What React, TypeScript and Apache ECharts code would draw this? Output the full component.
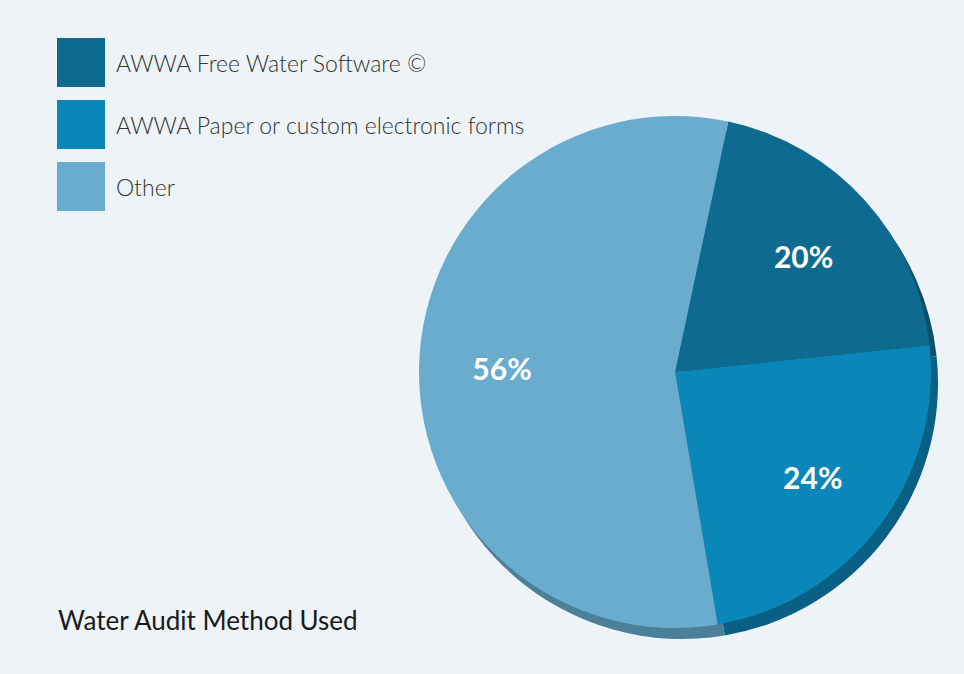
import React, { useEffect, useRef } from "react";
import * as echarts from "echarts";

const categories = [
  "AWWA Free Water Software ©",
  "AWWA Paper or custom electronic forms",
  "Other",
];
const values = [20, 24, 56];
const faceColors = ["#0f6a8f", "#0b86b8", "#6aaccd"];
const edgeColors = ["#0a4f6c", "#0a5f85", "#4c7f98"];
const title = "Water Audit Method Used";

export default function App() {
  const ref = useRef<HTMLDivElement>(null);
  useEffect(() => {
    if (!ref.current) return;
    const chart = echarts.init(ref.current, null, { renderer: "svg" });
    const data = categories.map((name, i) => ({
      name,
      value: values[i],
      itemStyle: { color: faceColors[i] },
    }));
    const edgeData = categories.map((name, i) => ({
      name: name + " edge",
      value: values[i],
      itemStyle: { color: edgeColors[i] },
    }));
    const labelData = categories.map((name, i) => ({
      name,
      value: values[i],
      itemStyle: { color: "transparent" },
    }));
    chart.setOption({
      animation: false,
      backgroundColor: "#edf3f6",
      legend: {
        data: categories,
        orient: "vertical",
        left: 57,
        top: 38,
        padding: 0,
        itemWidth: 48,
        itemHeight: 49,
        itemGap: 13,
        icon: "rect",
        selectedMode: false,
        textStyle: {
          fontFamily: "Lato",
          fontWeight: 300,
          fontSize: 23,
          color: "#333",
          padding: [0, 0, 0, 6],
        },
      },
      title: {
        text: title,
        left: 58,
        top: 607,
        padding: 0,
        textStyle: {
          fontFamily: "Lato",
          fontWeight: 400,
          fontSize: 26,
          color: "#1a1a1a",
        },
      },
      series: [
        {
          type: "pie",
          center: [682, 383],
          radius: 256,
          startAngle: 78,
          clockwise: true,
          silent: true,
          label: { show: false },
          labelLine: { show: false },
          data: edgeData,
          z: 1,
        },
        {
          type: "pie",
          center: [675, 372],
          radius: 256,
          startAngle: 78,
          clockwise: true,
          silent: true,
          label: { show: false },
          labelLine: { show: false },
          data,
          z: 2,
        },
        {
          type: "pie",
          center: [675, 372],
          radius: [84, 256],
          startAngle: 78,
          clockwise: true,
          silent: true,
          label: {
            show: true,
            position: "inside",
            formatter: "{c}%",
            color: "#ffffff",
            fontFamily: "Lato",
            fontWeight: 700,
            fontSize: 30,
          },
          labelLine: { show: false },
          data: labelData,
          z: 3,
        },
      ],
    });
    return () => chart.dispose();
  }, []);
  return (
    <div
      style={{
        position: "fixed",
        left: 0,
        top: 0,
        width: 964,
        height: 674,
        background: "#ffffff",
      }}
    >
      <div
        ref={ref}
        style={{ position: "absolute", left: 0, top: 0, width: 964, height: 674 }}
      />
    </div>
  );
}
